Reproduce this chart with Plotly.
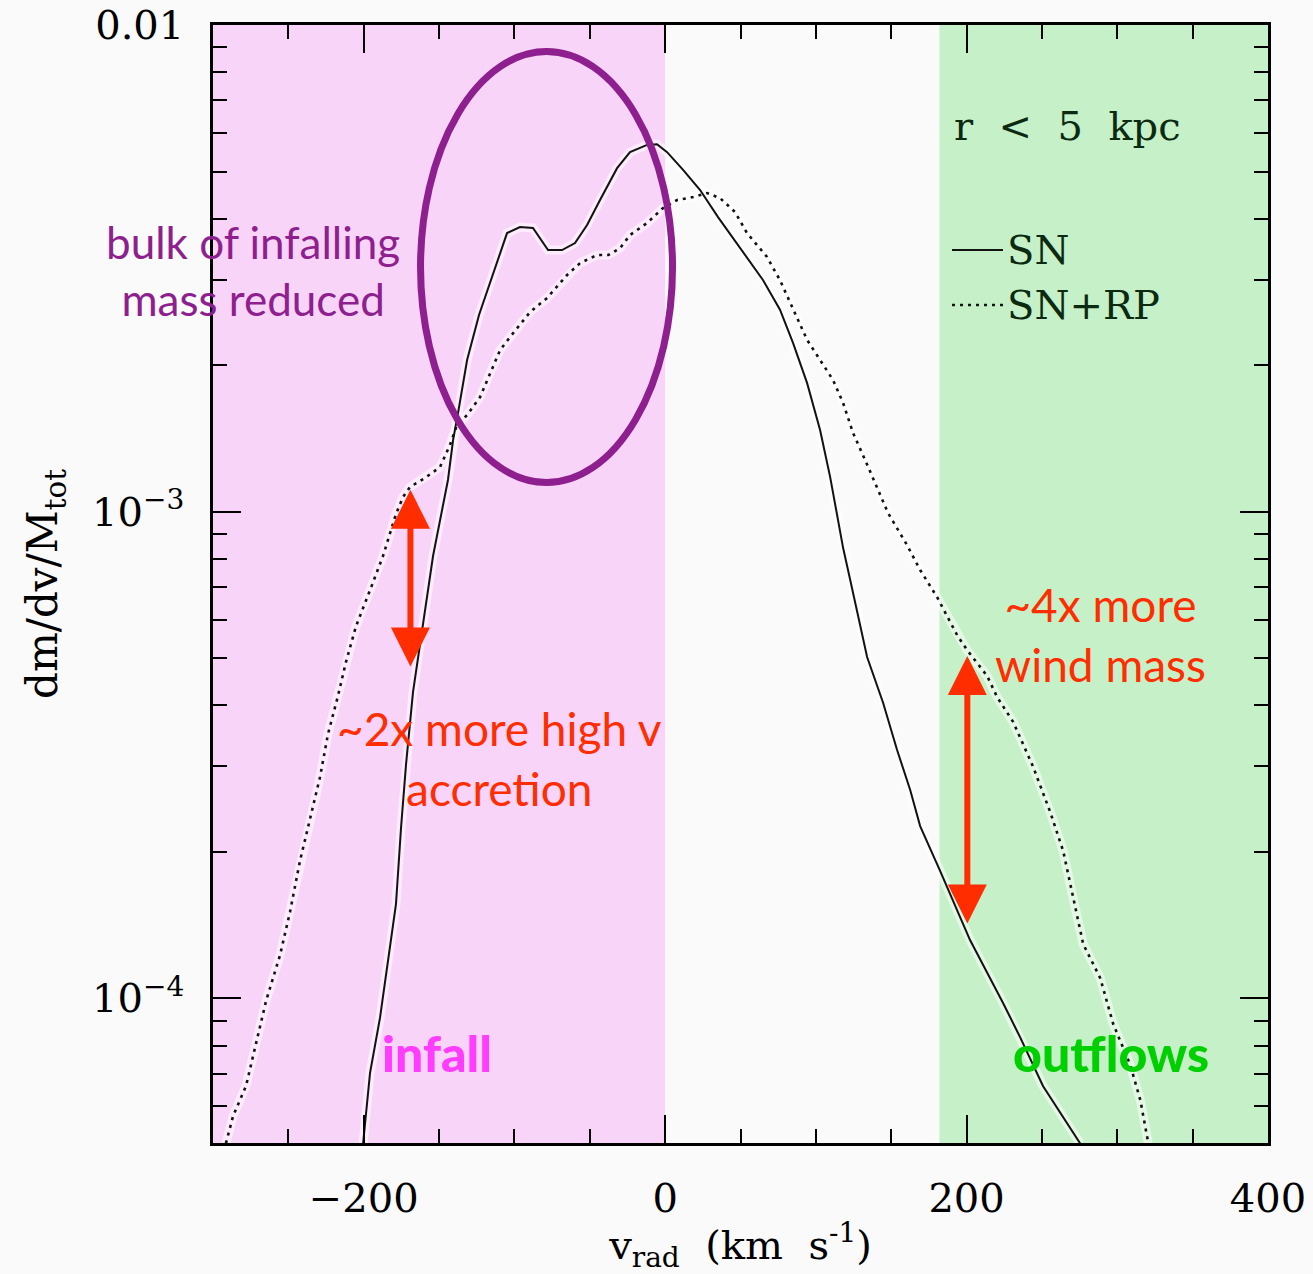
import plotly.graph_objects as go

# Radial velocity distribution of gas mass within r < 5 kpc
v_sn = [-200.4, -195.8, -189.2, -183.9, -178.6, -175.2, -171.9, -167.3, -162.0, -154.0,
        -144.1, -140.7, -137.4, -131.4, -123.5, -104.9, -96.3, -87.7, -77.7, -68.4,
        -59.8, -51.8, -43.2, -31.9, -23.3, -12.0, -5.4, 1.3, 11.9, 23.2,
        35.1, 49.7, 65.0, 76.2, 84.9, 94.2, 102.8, 109.5, 114.1, 118.1,
        122.8, 134.0, 144.6, 153.9, 162.6, 169.2, 182.5, 202.3, 224.2, 235.5,
        250.7, 275.3]
f_sn = [5.04e-5, 7.03e-5, 9.12e-5, 1.205e-4, 1.563e-4, 2.25e-4, 3.03e-4, 4.26e-4, 5.53e-4, 8.11e-4,
        1.162e-3, 1.404e-3, 1.596e-3, 2.05e-3, 2.536e-3, 3.737e-3, 3.845e-3, 3.827e-3, 3.449e-3, 3.449e-3,
        3.565e-3, 3.882e-3, 4.369e-3, 5.08e-3, 5.48e-3, 5.67e-3, 5.69e-3, 5.48e-3, 5.04e-3, 4.58e-3,
        4.03e-3, 3.48e-3, 2.99e-3, 2.60e-3, 2.22e-3, 1.837e-3, 1.472e-3, 1.178e-3, 9.94e-4, 8.42e-4,
        7.24e-4, 5.03e-4, 4.05e-4, 3.24e-4, 2.68e-4, 2.26e-4, 1.827e-4, 1.318e-4, 9.79e-5, 8.33e-5,
        6.61e-5, 5.04e-5]

v_snrp = [-291.4, -286.7, -278.1, -271.5, -264.8, -255.5, -248.9, -242.3, -235.6, -229.0,
          -223.7, -217.1, -211.8, -205.1, -195.8, -187.2, -178.6, -173.9, -169.3, -159.3,
          -149.4, -142.8, -138.1, -131.4, -122.8, -116.2, -109.5, -102.9, -89.6, -78.3,
          -65.1, -56.4, -45.2, -37.8, -29.9, -23.3, -12.0, -1.4, 7.9, 18.5,
          27.8, 36.4, 46.4, 54.3, 67.6, 76.2, 84.9, 94.2, 102.8, 111.4,
          118.1, 124.7, 132.7, 140.6, 147.9, 160.5, 169.2, 180.4, 193.7, 200.3,
          213.6, 220.3, 230.9, 244.2, 255.5, 264.1, 270.8, 277.4, 288.7, 297.3,
          308.6, 315.3, 320.6]
f_snrp = [5.04e-5, 5.73e-5, 6.61e-5, 8.06e-5, 9.88e-5, 1.228e-4, 1.505e-4, 1.916e-4, 2.336e-4, 2.85e-4,
          3.493e-4, 4.18e-4, 4.91e-4, 5.82e-4, 6.90e-4, 8.11e-4, 9.89e-4, 1.072e-3, 1.124e-3, 1.173e-3,
          1.235e-3, 1.371e-3, 1.507e-3, 1.58e-3, 1.72e-3, 1.928e-3, 2.149e-3, 2.285e-3, 2.572e-3, 2.749e-3,
          3.064e-3, 3.243e-3, 3.368e-3, 3.368e-3, 3.48e-3, 3.703e-3, 3.919e-3, 4.207e-3, 4.369e-3, 4.43e-3,
          4.516e-3, 4.41e-3, 4.128e-3, 3.737e-3, 3.337e-3, 2.99e-3, 2.60e-3, 2.254e-3, 2.05e-3, 1.865e-3,
          1.672e-3, 1.451e-3, 1.277e-3, 1.124e-3, 9.94e-4, 8.54e-4, 7.59e-4, 6.68e-4, 5.58e-4, 5.20e-4,
          4.60e-4, 4.16e-4, 3.70e-4, 2.99e-4, 2.415e-4, 2.009e-4, 1.60e-4, 1.293e-4, 1.101e-4, 8.86e-5,
          7.30e-5, 6.18e-5, 5.04e-5]

y_tickvals = [1e-4, 1e-3, 1e-2]
y_ticktext = ["10<sup>\u22124</sup>", "10<sup>\u22123</sup>", "0.01"]
y_minor = [k * 10.0 ** e for e in (-5, -4, -3) for k in range(2, 10)]

SERIF = "DejaVu Serif"
SANS = "Lato"
RED = "#ff2d00"
PURPLE = "#8e1f8e"
INK = "#121212"

fig = go.Figure()

# soft white glow under the curves
for xs, ys in ((v_sn, f_sn), (v_snrp, f_snrp)):
    fig.add_trace(go.Scatter(x=xs, y=ys, mode="lines", hoverinfo="skip", showlegend=False,
                             line=dict(color="rgba(255,255,255,0.55)", width=9)))

fig.add_trace(go.Scatter(x=v_sn, y=f_sn, mode="lines", name="SN", showlegend=False,
                         line=dict(color=INK, width=2)))
fig.add_trace(go.Scatter(x=v_snrp, y=f_snrp, mode="lines", name="SN+RP", showlegend=False,
                         line=dict(color=INK, width=2.6, dash="3px,5px")))

# infall / outflow bands
fig.add_shape(type="rect", xref="x", yref="paper", x0=-300, x1=0, y0=0, y1=1,
              fillcolor="#f9d4f9", line_width=0, layer="below")
fig.add_shape(type="rect", xref="x", yref="paper", x0=182, x1=400, y0=0, y1=1,
              fillcolor="#c6f0c8", line_width=0, layer="below")

# ellipse around the infall bump
fig.add_shape(type="circle", xref="x", yref="y", x0=-162.3, x1=4.9, y0=1.148e-3, y1=8.82e-3,
              line=dict(color=PURPLE, width=7))

# legend samples
fig.add_shape(type="line", xref="paper", yref="paper", x0=0.7005, x1=0.7488, y0=0.7987, y1=0.7987,
              line=dict(color=INK, width=2))
fig.add_shape(type="line", xref="paper", yref="paper", x0=0.7005, x1=0.7488, y0=0.7496, y1=0.7496,
              line=dict(color=INK, width=2.6, dash="3px,5px"))

# double-headed arrows
for xa, ytop, ybot in ((-169.0, -2.955, -3.321), (200.5, -3.2965, -3.849)):
    fig.add_annotation(x=xa, y=ytop, ax=xa, ay=ybot, xref="x", yref="y", axref="x", ayref="y",
                       text="", showarrow=True, arrowside="end+start",
                       arrowhead=2, startarrowhead=2, arrowsize=1.3, startarrowsize=1.3,
                       arrowwidth=6, arrowcolor=RED, standoff=0, startstandoff=0)

def label(x, y, text, color, size=45, family=SANS, weight="normal", xanchor="center"):
    fig.add_annotation(x=x, y=y, xref="paper", yref="paper", text=text, showarrow=False,
                       xanchor=xanchor, yanchor="middle", align="center",
                       font=dict(family=family, size=size, color=color, weight=weight))

label(0.0379, 0.780, "bulk of infalling<br>mass reduced", PURPLE, size=44)
label(0.272, 0.3439, "~2x more high v<br>accretion", RED, size=46)
label(0.8417, 0.4548, "~4x more<br>wind mass", RED, size=46)
label(0.2123, 0.0805, "infall", "#ff3cff", size=50, weight=900)
label(0.8512, 0.0805, "outflows", "#00d000", size=50, weight=900)
label(0.7005, 0.9097, "r\u00a0\u00a0<\u00a0\u00a05\u00a0\u00a0kpc", "#0b2a10", size=40, family=SERIF, xanchor="left")
label(0.7507, 0.7987, "SN", "#0b2a10", size=40, family=SERIF, xanchor="left")
label(0.7507, 0.7496, "SN+RP", "#0b2a10", size=40, family=SERIF, xanchor="left")

axis_common = dict(showline=True, linecolor="black", linewidth=2.5, mirror="allticks",
                   ticks="inside", ticklen=28, tickwidth=2, tickcolor="black",
                   showgrid=False, zeroline=False, automargin=False,
                   tickfont=dict(family=SERIF, size=40, color="black"))

fig.update_xaxes(range=[-300, 400], tickmode="linear", tick0=0, dtick=200,
                 ticklabelstandoff=18,
                 minor=dict(ticks="inside", ticklen=14, tickwidth=2, tickcolor="black", dtick=50,
                            showgrid=False),
                 title=dict(text="v<sub>rad</sub>\u00a0\u00a0(km\u00a0\u00a0s<sup>-1</sup>)",
                            font=dict(family=SERIF, size=40, color="black"), standoff=14),
                 **axis_common)
fig.update_yaxes(type="log", range=[-4.297, -2], tickmode="array", tickvals=y_tickvals,
                 ticktext=y_ticktext, ticklabelstandoff=18,
                 minor=dict(ticks="inside", ticklen=14, tickwidth=2, tickcolor="black",
                            tickmode="array", tickvals=y_minor, showgrid=False),
                 title=dict(text="dm/dv/M<sub>tot</sub>",
                            font=dict(family=SERIF, size=42, color="black"), standoff=22),
                 **axis_common)

fig.update_layout(width=1313, height=1274, margin=dict(l=213, r=45, t=25, b=131),
                  paper_bgcolor="#fafafa", plot_bgcolor="#fafafa", showlegend=False)

fig.write_html("out.html")
